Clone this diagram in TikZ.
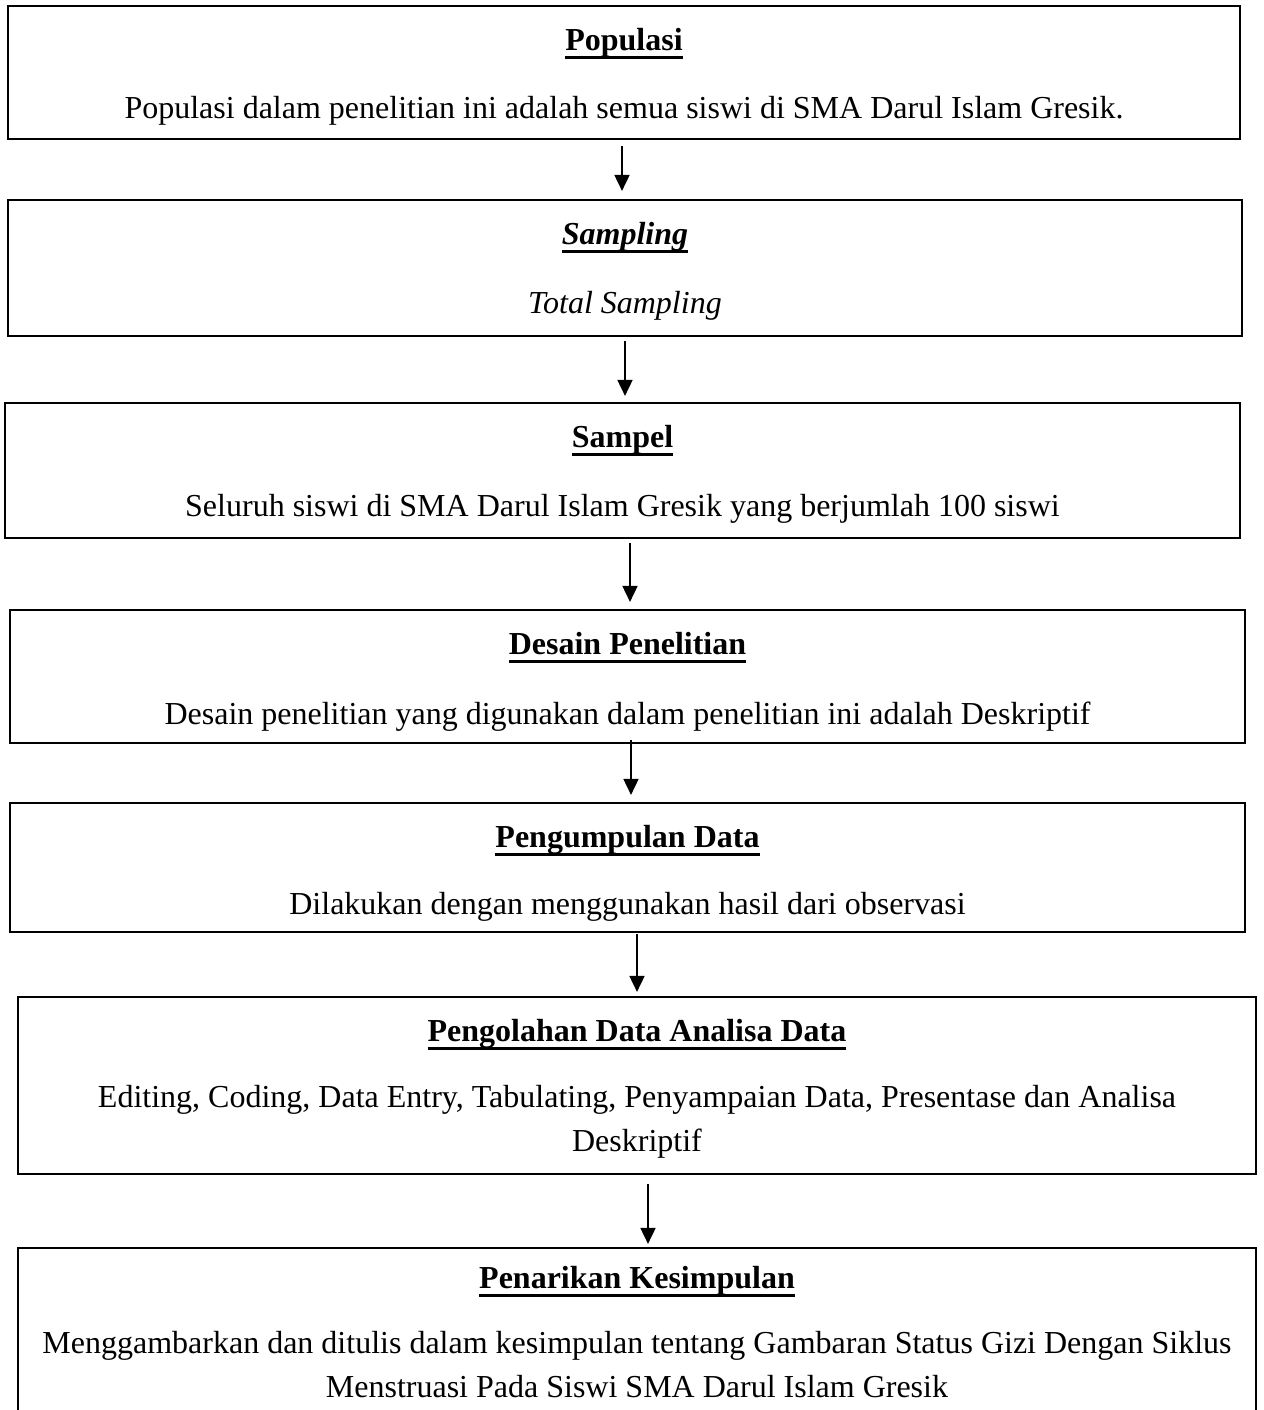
\documentclass[tikz,border=0pt]{standalone}
\usepackage{fontspec}
\setmainfont{Liberation Serif}
\usetikzlibrary{arrows.meta, positioning}

% thick underline for the box headings
\newcommand{\thickul}[1]{\setbox0\hbox{#1}\rlap{\rule[-4.4pt]{\wd0}{1.3pt}}\box0}

\tikzset{
    box/.style={draw, rectangle, line width=1.1pt, inner sep=0pt},
    ttl/.style={anchor=base, font=\fontsize{16}{22}\selectfont\bfseries},
    txt/.style={anchor=base, align=center, font=\fontsize{16}{22}\selectfont},
    flow/.style={line width=0.9pt, -{Triangle[length=8pt, width=7.5pt]}}
}

\begin{document}
\begin{tikzpicture}[x=0.5pt, y=-0.5pt]
    % Page frame (pixel grid, y going down)
    \useasboundingbox (0,0) rectangle (1264,1410);
    \clip (0,0) rectangle (1264,1410);

    % Boxes of the flow
    \node[box, minimum width=616pt, minimum height=66.5pt] (pop) at (624,72.5) {};
    \node[box, minimum width=617pt, minimum height=68pt] (samp) at (625,268) {};
    \node[box, minimum width=617.5pt, minimum height=67.5pt] (sampel) at (622.5,470.5) {};
    \node[box, minimum width=617.5pt, minimum height=66.5pt] (desain) at (627.5,676.5) {};
    \node[box, minimum width=617.5pt, minimum height=64.5pt] (kumpul) at (627.5,867.5) {};
    \node[box, minimum width=619pt, minimum height=88.5pt] (olah) at (637,1085.5) {};
    \node[box, minimum width=619pt, minimum height=101pt] (tarik) at (637,1349) {};

    % Headings
    \node[ttl] (popT) at (624,50) {\thickul{Populasi}};
    \node[ttl] (sampT) at (625,244) {\thickul{\itshape Sampling}};
    \node[ttl] (sampelT) at (622.5,447) {\thickul{Sampel}};
    \node[ttl] (desainT) at (627.5,654) {\thickul{Desain Penelitian}};
    \node[ttl] (kumpulT) at (627.5,847) {\thickul{Pengumpulan Data}};
    \node[ttl] (olahT) at (637,1041) {\thickul{Pengolahan Data Analisa Data}};
    \node[ttl] (tarikT) at (637,1288) {\thickul{Penarikan Kesimpulan}};

    % Body texts (base = last line)
    \node[txt] (popB) at (624,118) {Populasi dalam penelitian ini adalah semua siswi di SMA Darul Islam Gresik.};
    \node[txt] (sampB) at (625,313) {\itshape Total Sampling};
    \node[txt] (sampelB) at (622.5,516) {Seluruh siswi di SMA Darul Islam Gresik yang berjumlah 100 siswi};
    \node[txt] (desainB) at (627.5,724) {Desain penelitian yang digunakan dalam penelitian ini adalah Deskriptif};
    \node[txt] (kumpulB) at (627.5,914) {Dilakukan dengan menggunakan hasil dari observasi};
    \node[txt] (olahB) at (637,1151) {Editing, Coding, Data Entry, Tabulating, Penyampaian Data, Presentase dan Analisa\\Deskriptif};
    \node[txt] (tarikB) at (637,1397) {Menggambarkan dan ditulis dalam kesimpulan tentang Gambaran Status Gizi Dengan Siklus\\Menstruasi Pada Siswi SMA Darul Islam Gresik};

    % Arrows between the boxes
    \draw[flow, shorten <=3pt, shorten >=4pt] ([xshift=-1pt]pop.south) -- ([xshift=-1pt]pop.south |- samp.north);
    \draw[flow, shorten <=2pt, shorten >=3pt] (samp.south) -- (samp.south |- sampel.north);
    \draw[flow, shorten <=2pt, shorten >=3.5pt] ([xshift=3.75pt]sampel.south) -- ([xshift=3.75pt]sampel.south |- desain.north);
    \draw[flow, shorten <=-2pt, shorten >=3.5pt] ([xshift=1.75pt]desain.south) -- ([xshift=1.75pt]desain.south |- kumpul.north);
    \draw[flow, shorten <=0.5pt, shorten >=2pt] ([xshift=4.75pt]kumpul.south) -- ([xshift=4.75pt]kumpul.south |- olah.north);
    \draw[flow, shorten <=4.5pt, shorten >=1.5pt] ([xshift=5.5pt]olah.south) -- ([xshift=5.5pt]olah.south |- tarik.north);
\end{tikzpicture}
\end{document}
